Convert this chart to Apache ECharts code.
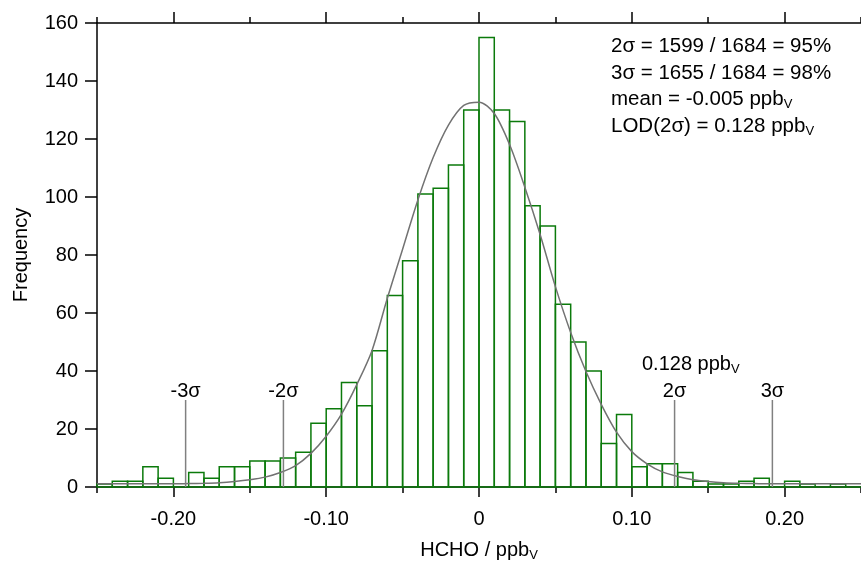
<!DOCTYPE html>
<html>
<head>
<meta charset="utf-8">
<title>HCHO histogram</title>
<script src="https://cdn.jsdelivr.net/npm/echarts@6/dist/echarts.min.js"></script>
<style>
  html, body { margin: 0; padding: 0; background: #fff; }
  #histChart { width: 861px; height: 567px; }
</style>
</head>
<body>
<div id="histChart"></div>
<script>
// 分箱边界 (ppbV)
const binEdges = [
  -0.25, -0.24, -0.23, -0.22, -0.21, -0.20, -0.19, -0.18, -0.17, -0.16,
  -0.15, -0.14, -0.13, -0.12, -0.11, -0.10, -0.09, -0.08, -0.07, -0.06,
  -0.05, -0.04, -0.03, -0.02, -0.01, 0.00, 0.01, 0.02, 0.03, 0.04,
  0.05, 0.06, 0.07, 0.08, 0.09, 0.10, 0.11, 0.12, 0.13, 0.14,
  0.15, 0.16, 0.17, 0.18, 0.19, 0.20, 0.21, 0.22, 0.23, 0.24, 0.25
];
// 每个分箱的频数
const counts = [
  1, 2, 2, 7, 3, 0, 5, 3, 7, 7,
  9, 9, 10, 12, 22, 27, 36, 28, 47, 66,
  78, 101, 103, 111, 130, 155, 130, 126, 97, 90,
  63, 50, 40, 15, 25, 7, 8, 8, 5, 2,
  1, 1, 2, 3, 0, 2, 1, 0, 1, 0
];
// 高斯拟合曲线 (从图上读的点)
const curveX = [
  -0.25, -0.24, -0.23, -0.22, -0.21, -0.20, -0.19, -0.18, -0.17, -0.16,
  -0.15, -0.14, -0.13, -0.12, -0.11, -0.10, -0.09, -0.08, -0.07, -0.06,
  -0.05, -0.04, -0.03, -0.02, -0.01, 0.00, 0.01, 0.02, 0.03, 0.04,
  0.05, 0.06, 0.07, 0.08, 0.09, 0.10, 0.11, 0.12, 0.13, 0.14,
  0.15, 0.16, 0.17, 0.18, 0.19, 0.20, 0.21, 0.22, 0.23, 0.24, 0.25
];
const curveY = [
  1.1, 1.1, 1.1, 1.1, 1.1, 1.1, 1.2, 1.3, 1.5, 1.9,
  2.5, 3.4, 5.0, 7.4, 11.6, 17.5, 25.1, 35.3, 47.1, 65.1,
  82.0, 99.0, 113.6, 124.8, 131.6, 132.7, 128.8, 118.1, 103.4, 87.1,
  69.1, 53.3, 39.8, 28.5, 18.9, 12.2, 8.0, 5.2, 3.6, 2.5,
  1.9, 1.5, 1.3, 1.2, 1.1, 1.1, 1.1, 1.1, 1.1, 1.1, 1.1
];
// σ 标记线
const sigmaX = [-0.192, -0.128, 0.128, 0.192];
const sigmaNames = ['-3σ', '-2σ', '2σ', '3σ'];
const sigmaTop = 30;
// 坐标轴刻度
const xMajorTicks = [-0.2, -0.1, 0, 0.1, 0.2];
const xMajorLabels = ['-0.20', '-0.10', '0', '0.10', '0.20'];
const xMinorTicks = [-0.25, -0.15, -0.05, 0.05, 0.15, 0.25];
// 右上角统计文字
const statLines = [
  '2σ = 1599 / 1684 = 95%',
  '3σ = 1655 / 1684 = 98%',
  'mean = -0.005 ppb{v|V}',
  'LOD(2σ) = 0.128 ppb{v|V}'
];
const lodLabel = '0.128 ppb{v|V}';

const FONT = 'Liberation Sans, Arial, sans-serif';
const subStyle = { fontSize: 13, fontFamily: FONT, padding: [11, 0, 0, 0], color: '#000' };

let chart = echarts.init(document.getElementById('histChart'));

function xAxisBase(pos, ticks, len, showLine) {
  return {
    type: 'value',
    position: pos,
    min: -0.25,
    max: 0.25,
    axisLine: { show: showLine, onZero: false, lineStyle: { color: '#000', width: 1.5 } },
    axisTick: { show: true, customValues: ticks, length: len, lineStyle: { color: '#000', width: 1.5 } },
    axisLabel: { show: false },
    splitLine: { show: false }
  };
}

// 下方主刻度 + 标签
let xMain = xAxisBase('bottom', xMajorTicks, 10, true);
xMain.axisLabel = {
  show: true,
  customValues: xMajorTicks,
  margin: 22,
  fontSize: 20,
  fontFamily: FONT,
  color: '#000',
  formatter: function (v) {
    let i = xMajorTicks.findIndex(t => Math.abs(t - v) < 1e-9);
    return i >= 0 ? xMajorLabels[i] : '';
  }
};
xMain.name = '{n|HCHO / ppb}{v|V}';
xMain.nameLocation = 'middle';
xMain.nameGap = 51;
xMain.nameTextStyle = {
  rich: {
    n: { fontSize: 20, fontFamily: FONT, color: '#000' },
    v: subStyle
  }
};

let option = {
  animation: false,
  backgroundColor: '#fff',
  grid: { left: 97, right: -3, top: 23, bottom: 71, containLabel: false },
  xAxis: [
    xMain,
    xAxisBase('bottom', xMinorTicks, 6, false),
    xAxisBase('top', xMajorTicks, 11, true),
    xAxisBase('top', xMinorTicks, 6, false)
  ],
  yAxis: {
    type: 'value',
    min: 0,
    max: 160,
    interval: 20,
    axisLine: { show: true, onZero: false, lineStyle: { color: '#000', width: 1.5 } },
    axisTick: { show: true, length: 12, lineStyle: { color: '#000', width: 1.5 } },
    axisLabel: { margin: 19, fontSize: 20, fontFamily: FONT, color: '#000' },
    splitLine: { show: false },
    name: 'Frequency',
    nameLocation: 'middle',
    nameGap: 66,
    nameTextStyle: { fontSize: 20, fontFamily: FONT, color: '#000' }
  },
  series: [
    {
      // 直方图柱子 (空心绿框)
      type: 'custom',
      xAxisIndex: 0,
      encode: { x: [0, 1], y: 2 },
      data: counts.map((c, i) => [binEdges[i], binEdges[i + 1], c]),
      renderItem: function (params, api) {
        let p0 = api.coord([api.value(0), api.value(2)]);
        let p1 = api.coord([api.value(1), 0]);
        return {
          type: 'rect',
          shape: { x: p0[0], y: p0[1], width: p1[0] - p0[0], height: p1[1] - p0[1] },
          style: { fill: 'none', stroke: '#0b7a0b', lineWidth: 1.5 }
        };
      },
      z: 2
    },
    {
      // 高斯拟合
      type: 'line',
      xAxisIndex: 0,
      data: curveX.map((x, i) => [x, curveY[i]]),
      smooth: 0.3,
      symbol: 'none',
      lineStyle: { color: '#727272', width: 1.5 },
      z: 3
    },
    {
      // ±2σ, ±3σ 竖线
      type: 'custom',
      xAxisIndex: 0,
      encode: { x: 0, y: 1 },
      data: sigmaX.map((x, i) => [x, sigmaTop, i]),
      renderItem: function (params, api) {
        let top = api.coord([api.value(0), api.value(1)]);
        let bot = api.coord([api.value(0), 0]);
        return {
          type: 'group',
          children: [
            {
              type: 'line',
              shape: { x1: top[0], y1: top[1], x2: bot[0], y2: bot[1] },
              style: { stroke: '#808080', lineWidth: 1.5 }
            },
            {
              type: 'text',
              x: top[0],
              y: top[1] - 9,
              style: {
                text: sigmaNames[api.value(2)],
                fontSize: 20,
                fontFamily: FONT,
                fill: '#000',
                align: 'center',
                verticalAlign: 'middle'
              }
            }
          ]
        };
      },
      z: 4
    }
  ],
  graphic: statLines.map((t, i) => ({
    type: 'text',
    x: 611,
    y: [46, 73, 99, 126][i],
    style: {
      text: t,
      fontSize: 20.5,
      fontFamily: FONT,
      fill: '#000',
      verticalAlign: 'middle',
      rich: { v: subStyle }
    }
  })).concat([{
    type: 'text',
    x: 642,
    y: 364,
    style: {
      text: lodLabel,
      fontSize: 20,
      fontFamily: FONT,
      fill: '#000',
      verticalAlign: 'middle',
      rich: { v: subStyle }
    }
  }])
};

chart.setOption(option, true);
</script>
</body>
</html>
